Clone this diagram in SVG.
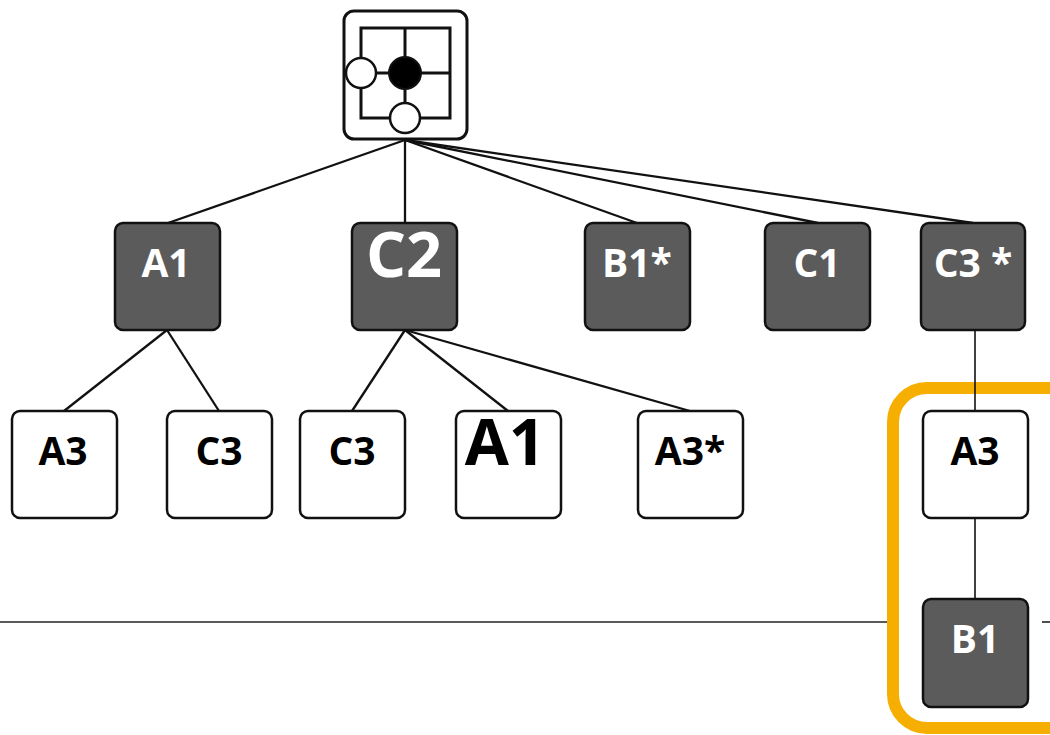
<svg xmlns="http://www.w3.org/2000/svg" width="1050" height="735" viewBox="0 0 1050 735">
  <style>
    .dark rect { fill: #5b5b5b; stroke: #111; stroke-width: 2.5; }
    .light rect { fill: #fff; stroke: #111; stroke-width: 2.5; }
    .dark text { fill: #fff; }
    text { font-family: "Open Sans", "Liberation Sans", sans-serif; font-weight: bold; font-size: 39px; text-anchor: middle; }
    .light text { fill: #000; }
    .edge { stroke: #111; stroke-width: 2.3; fill: none; }
  </style>
  <rect width="1050" height="735" fill="#fff"/>

  <!-- divider -->
  <g id="divider" stroke="#222" stroke-width="1.6">
    <line x1="0" y1="622" x2="888" y2="622"/>
    <line x1="1042" y1="622" x2="1050" y2="622"/>
  </g>

  <!-- highlight frame -->
  <rect id="highlight" x="893" y="388" width="190" height="340" rx="34" fill="none" stroke="#f6ae00" stroke-width="12"/>

  <g id="connectors" class="edge">
    <line x1="405" y1="140" x2="168" y2="223"/>
    <line x1="405" y1="140" x2="405" y2="223"/>
    <line x1="405" y1="140" x2="637" y2="223"/>
    <line x1="405" y1="140" x2="818" y2="223"/>
    <line x1="405" y1="140" x2="973" y2="223"/>
    <line x1="167" y1="330" x2="64" y2="411"/>
    <line x1="167" y1="330" x2="219" y2="411"/>
    <line x1="405" y1="330" x2="352" y2="411"/>
    <line x1="405" y1="330" x2="508" y2="411"/>
    <line x1="405" y1="330" x2="690" y2="411"/>
    <line x1="975" y1="330" x2="975" y2="411" stroke-width="1.6"/>
    <line x1="975" y1="518" x2="975" y2="599" stroke-width="1.6"/>
  </g>

  <!-- root position: 2x2 board with stones -->
  <g id="root">
    <rect x="344" y="11" width="123" height="128" rx="10" fill="#fff" stroke="#111" stroke-width="3"/>
    <g stroke="#111" stroke-width="3" fill="none">
      <rect x="361" y="28" width="89" height="90"/>
      <line x1="405" y1="28" x2="405" y2="118"/>
      <line x1="361" y1="73" x2="450" y2="73"/>
    </g>
    <circle cx="405" cy="73" r="16" fill="#000" stroke="#111" stroke-width="2"/>
    <circle cx="361" cy="73" r="15" fill="#fff" stroke="#111" stroke-width="2.5"/>
    <circle cx="405" cy="118" r="15" fill="#fff" stroke="#111" stroke-width="2.5"/>
  </g>

  <!-- first level -->
  <g id="n-a1" class="dark"><rect x="115" y="223" width="105" height="107" rx="8"/><text x="166" y="277">A1</text></g>
  <g id="n-c2" class="dark"><rect x="352" y="223" width="105" height="107" rx="8"/><text x="404" y="277" style="font-size:63px">C2</text></g>
  <g id="n-b1s" class="dark"><rect x="585" y="223" width="105" height="107" rx="8"/><text x="637" y="277">B1*</text></g>
  <g id="n-c1" class="dark"><rect x="765" y="223" width="105" height="107" rx="8"/><text x="817" y="277">C1</text></g>
  <g id="n-c3s" class="dark"><rect x="921" y="223" width="104" height="107" rx="8"/><text x="973" y="277">C3 *</text></g>

  <!-- second level -->
  <g id="n-a3-1" class="light"><rect x="12" y="411" width="105" height="107" rx="8"/><text x="63" y="465">A3</text></g>
  <g id="n-c3-1" class="light"><rect x="167" y="411" width="105" height="107" rx="8"/><text x="219" y="465">C3</text></g>
  <g id="n-c3-2" class="light"><rect x="300" y="411" width="105" height="107" rx="8"/><text x="352" y="465">C3</text></g>
  <g id="n-a1-2" class="light"><rect x="456" y="411" width="105" height="107" rx="8"/><text x="505" y="465" style="font-size:64px">A1</text></g>
  <g id="n-a3s" class="light"><rect x="638" y="411" width="105" height="107" rx="8"/><text x="690" y="465">A3*</text></g>
  <g id="n-a3-3" class="light"><rect x="923" y="411" width="105" height="107" rx="8"/><text x="975" y="465">A3</text></g>

  <!-- third level -->
  <g id="n-b1" class="dark"><rect x="923" y="599" width="105" height="108" rx="8"/><text x="975" y="653">B1</text></g>
</svg>
